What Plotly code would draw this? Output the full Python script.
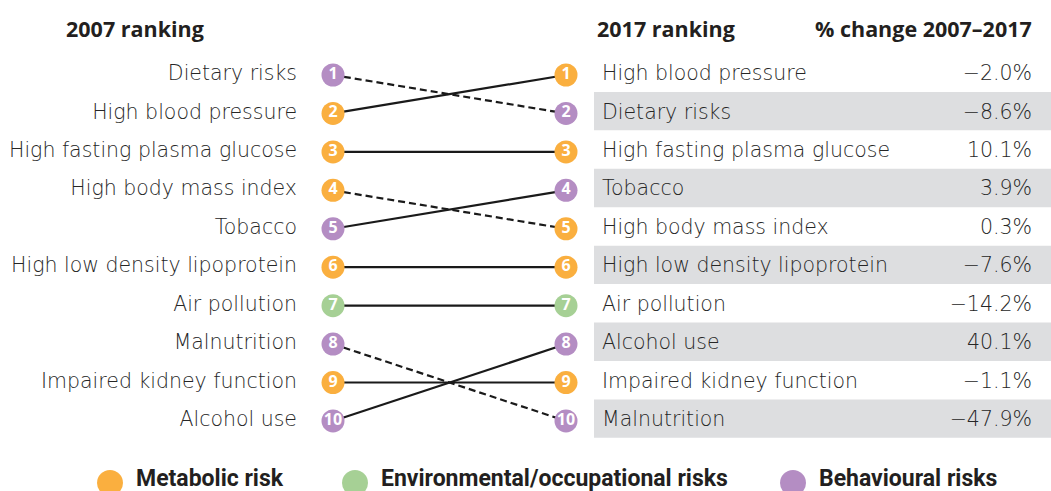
import plotly.graph_objects as go

# --- DATA ---
risks_2007 = ["Dietary risks", "High blood pressure", "High fasting plasma glucose",
              "High body mass index", "Tobacco", "High low density lipoprotein",
              "Air pollution", "Malnutrition", "Impaired kidney function", "Alcohol use"]
category_2007 = ["Behavioural", "Metabolic", "Metabolic", "Metabolic", "Behavioural",
                 "Metabolic", "Environmental", "Behavioural", "Metabolic", "Behavioural"]
rank_2007 = [1, 2, 3, 4, 5, 6, 7, 8, 9, 10]
rank_2017 = [2, 1, 3, 5, 4, 6, 7, 10, 9, 8]

risks_2017 = ["High blood pressure", "Dietary risks", "High fasting plasma glucose",
              "Tobacco", "High body mass index", "High low density lipoprotein",
              "Air pollution", "Alcohol use", "Impaired kidney function", "Malnutrition"]
pct_change = [-2.0, -8.6, 10.1, 3.9, 0.3, -7.6, -14.2, 40.1, -1.1, -47.9]

legend_labels = ["Metabolic risk", "Environmental/occupational risks", "Behavioural risks"]
legend_keys = ["Metabolic", "Environmental", "Behavioural"]

# --- STYLE ---
colors = {"Metabolic": "#FAAF3F", "Environmental": "#A6D095", "Behavioural": "#B48DC3"}
FONT = "Open Sans"
BODY_FONT = "DejaVu Sans"
TXT = "#262626"
X_LEFT, X_RIGHT = 333, 566
Y_TOP_PX, ROW_PX, H_PX = 75, 38.44, 491

def px_to_rank(p):
    return 1 + (p - Y_TOP_PX) / ROW_PX

fig = go.Figure()

# alternating grey bands behind 2017 rows
for r in rank_2017:
    if r % 2 == 0:
        fig.add_shape(type="rect", xref="x", yref="y", x0=594, x1=1051,
                      y0=r - 0.56, y1=r + 0.44, fillcolor="#DDDEE0",
                      line_width=0, layer="below")

# connecting lines (dashed = fell in ranking)
for i, name in enumerate(risks_2007):
    dropped = rank_2017[i] > rank_2007[i]
    fig.add_trace(go.Scatter(
        x=[X_LEFT, X_RIGHT], y=[rank_2007[i], rank_2017[i]], mode="lines",
        line=dict(color="#1a1a1a", width=2.2, dash="7px,4px" if dropped else "solid"),
        hoverinfo="skip", showlegend=False))

# 2007 markers
fig.add_trace(go.Scatter(
    x=[X_LEFT] * len(rank_2007), y=rank_2007, mode="markers+text",
    marker=dict(size=23, color=[colors[c] for c in category_2007]),
    text=[str(r) for r in rank_2007], textposition="middle center",
    textfont=dict(family=FONT, size=16, color="white", weight="bold"),
    showlegend=False, hoverinfo="skip"))

# 2017 markers
fig.add_trace(go.Scatter(
    x=[X_RIGHT] * len(rank_2017), y=rank_2017, mode="markers+text",
    marker=dict(size=23, color=[colors[c] for c in category_2007]),
    text=[str(r) for r in rank_2017], textposition="middle center",
    textfont=dict(family=FONT, size=16, color="white", weight="bold"),
    showlegend=False, hoverinfo="skip"))

# 2007 labels
fig.add_trace(go.Scatter(
    x=[297] * len(risks_2007), y=rank_2007, mode="text", text=risks_2007,
    textposition="middle left", textfont=dict(family=BODY_FONT, size=20.5, color=TXT, weight=200),
    showlegend=False, hoverinfo="skip"))

# 2017 labels
pos_2017 = list(range(1, len(risks_2017) + 1))
fig.add_trace(go.Scatter(
    x=[602] * len(risks_2017), y=pos_2017, mode="text", text=risks_2017,
    textposition="middle right", textfont=dict(family=BODY_FONT, size=20.5, color=TXT, weight=200),
    showlegend=False, hoverinfo="skip"))

# % change
fig.add_trace(go.Scatter(
    x=[1032] * len(pct_change), y=pos_2017, mode="text",
    text=[f"{v:.1f}%".replace("-", "\u2212") for v in pct_change],
    textposition="middle left", textfont=dict(family=BODY_FONT, size=20.5, color=TXT, weight=200),
    showlegend=False, hoverinfo="skip"))

# headers
for x, txt, anchor in [(64, "2007 ranking", "left"), (595, "2017 ranking", "left"),
                       (1034, "% change 2007\u20132017", "right")]:
    fig.add_annotation(x=x, y=px_to_rank(28), xref="x", yref="y", text=f"<b>{txt}</b>",
                       showarrow=False, xanchor=anchor, yanchor="middle",
                       font=dict(family=FONT, size=21.5, color="#231F20"))

# bottom legend
leg_x = [110, 355, 793]
fig.add_trace(go.Scatter(
    x=leg_x, y=[px_to_rank(483)] * 3, mode="markers",
    marker=dict(size=26, color=[colors[k] for k in legend_keys]),
    showlegend=False, hoverinfo="skip"))
for x, lab in zip(leg_x, legend_labels):
    fig.add_annotation(x=x + 24, y=px_to_rank(478), xref="x", yref="y",
                       text=f"<b>{lab}</b>", showarrow=False, xanchor="left",
                       yanchor="middle", font=dict(family="Roboto", size=23, color="#231F20"))

fig.update_xaxes(range=[0, 1051], visible=False, fixedrange=True)
fig.update_yaxes(range=[px_to_rank(H_PX), px_to_rank(0)], visible=False, fixedrange=True)
fig.update_layout(width=1051, height=491, margin=dict(l=0, r=0, t=0, b=0),
                  plot_bgcolor="white", paper_bgcolor="white", showlegend=False)

fig.write_html("out.html", config={"displayModeBar": False},
               post_script="document.body.style.margin='0';document.body.style.overflow='hidden';")
